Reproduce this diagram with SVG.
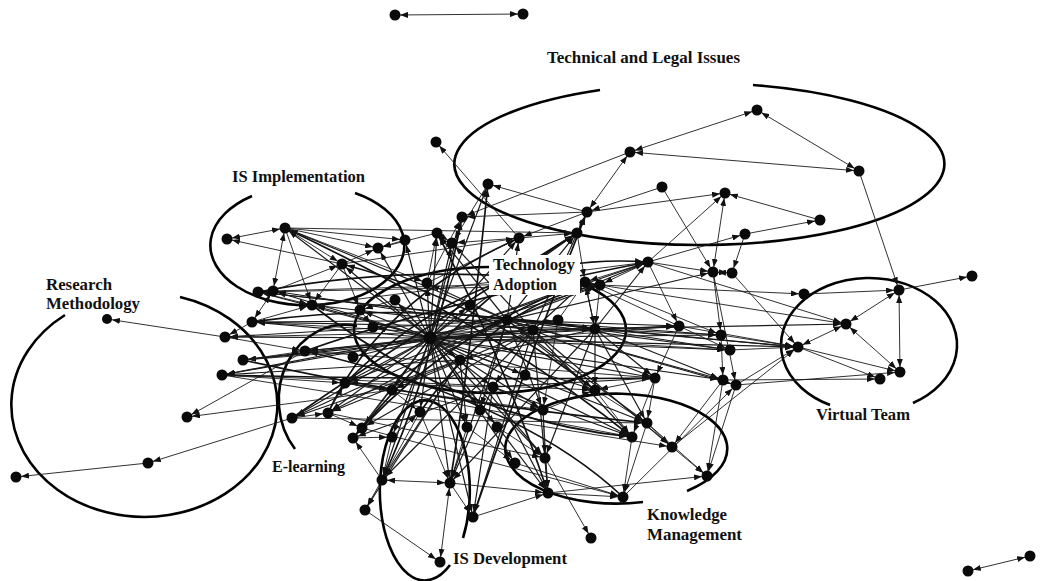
<svg xmlns="http://www.w3.org/2000/svg" width="1048" height="581" viewBox="0 0 1048 581">
<defs>
<marker id="ah" viewBox="0 0 8 6" refX="13" refY="3" markerWidth="8" markerHeight="6" orient="auto-start-reverse" markerUnits="userSpaceOnUse"><path d="M0,0 L8,3 L0,6 z" fill="#111"/></marker>
<style>
.edges path{fill:none;stroke:#1a1a1a;stroke-width:0.9;marker-end:url(#ah)}
.edges path.b{marker-start:url(#ah)}
.edges .hub path{stroke-width:1.2}
.edges .cv path{stroke-width:1.7;stroke:#111}
.node circle{fill:#0a0a0a}
.cl{fill:none;stroke:#000;stroke-width:2.6}
.lbl{font-family:"Liberation Serif","Times New Roman",serif;font-weight:bold;font-size:16px;fill:#111}
</style>
</defs>
<rect width="1048" height="581" fill="#fff"/>
<g id="clusters">
<path class="cl" d="M600,90 A245,81 0 1,0 753,85"/>
<path class="cl" d="M252,196 A97,60 0 1,0 355,193"/>
<path class="cl" d="M180,297 A133,112 0 1,1 65,315"/>
<path class="cl" d="M357,326 A66,75 0 0,0 295,449"/>
<ellipse class="cl" cx="490" cy="330" rx="136" ry="63"/>
<path class="cl" d="M450,565 A45,90 0 1,1 463,538"/>
<path class="cl" d="M643,502 A111,55 0 1,1 687,491"/>
<path class="cl" d="M830,405 A88,67 0 1,1 913,403"/>
</g>
<g id="connectors" class="edges">
<g class="hub">
<path d="M430 338L285 228"/><path d="M430 338L342 264"/><path d="M430 338L258 292"/><path d="M430 338L273 291"/><path d="M430 338L312 305"/><path d="M430 338L252 322"/><path d="M430 338L225 337"/><path d="M430 338L305 351"/><path d="M430 338L243 360"/><path d="M430 338L222 375"/><path d="M430 338L345 383"/><path d="M430 338L488 184"/><path d="M430 338L462 217"/><path d="M430 338L519 238"/><path d="M430 338L577 233"/><path d="M430 338L437 233"/><path d="M430 338L452 243"/><path d="M430 338L405 240"/><path d="M430 338L378 248"/><path d="M430 338L648 262"/><path d="M430 338L585 282"/><path d="M430 338L600 285"/><path d="M430 338L679 326"/><path d="M430 338L721 335"/><path d="M430 338L730 350"/><path d="M430 338L655 378"/><path d="M430 338L723 380"/><path d="M430 338L647 423"/><path d="M430 338L632 437"/><path d="M430 338L595 329"/><path d="M430 338L558 320"/><path d="M430 338L595 390"/><path d="M430 338L543 410"/><path d="M430 338L480 410"/><path d="M430 338L420 412"/><path d="M430 338L467 427"/><path d="M430 338L497 427"/><path d="M430 338L493 387"/><path d="M430 338L392 390"/><path d="M430 338L292 418"/><path d="M430 338L328 413"/><path d="M430 338L362 428"/><path d="M430 338L353 438"/><path d="M430 338L392 437"/><path d="M430 338L382 480"/><path d="M430 338L450 483"/><path d="M430 338L473 517"/><path d="M430 338L548 493"/><path d="M430 338L545 458"/><path d="M430 338L515 463"/><path d="M430 338L427 283"/><path d="M430 338L395 300"/><path d="M430 338L360 310"/><path d="M430 338L373 327"/><path d="M430 338L353 357"/><path d="M430 338L507 320"/><path d="M430 338L533 330"/><path d="M430 338L470 305"/><path d="M430 338L460 360"/><path d="M430 338L525 375"/><path d="M430 338L798 347"/>
<path d="M507 320L285 228"/><path d="M507 320L258 292"/><path d="M507 320L252 322"/><path d="M507 320L225 337"/><path d="M507 320L222 375"/><path d="M507 320L519 238"/><path d="M507 320L577 233"/><path d="M507 320L648 262"/><path d="M507 320L600 285"/><path d="M507 320L713 272"/><path d="M507 320L679 326"/><path d="M507 320L721 335"/><path d="M507 320L730 350"/><path d="M507 320L655 378"/><path d="M507 320L723 380"/><path d="M507 320L647 423"/><path d="M507 320L595 390"/><path d="M507 320L543 410"/><path d="M507 320L480 410"/><path d="M507 320L450 483"/><path d="M507 320L292 418"/><path d="M507 320L328 413"/><path d="M507 320L345 383"/><path d="M507 320L427 283"/><path d="M507 320L437 233"/><path d="M507 320L798 347"/><path d="M507 320L736 385"/>
<path d="M533 330L273 291"/><path d="M533 330L312 305"/><path d="M533 330L305 351"/><path d="M533 330L243 360"/><path d="M533 330L587 212"/><path d="M533 330L452 243"/><path d="M533 330L585 282"/><path d="M533 330L632 437"/><path d="M533 330L672 447"/><path d="M533 330L493 387"/><path d="M533 330L382 480"/><path d="M533 330L473 517"/><path d="M533 330L548 493"/><path d="M533 330L362 428"/><path d="M533 330L392 390"/><path d="M533 330L846 324"/>
<path d="M595 329L648 262"/><path d="M595 329L585 282"/><path d="M595 329L679 326"/><path d="M595 329L721 335"/><path d="M595 329L730 350"/><path d="M595 329L655 378"/><path d="M595 329L723 380"/><path d="M595 329L595 390"/><path d="M595 329L647 423"/><path d="M595 329L798 347"/><path d="M595 329L252 322"/><path d="M595 329L258 292"/><path d="M595 329L460 360"/><path d="M595 329L545 458"/><path d="M595 329L450 483"/>
<path d="M460 360L222 375"/><path d="M460 360L292 418"/><path d="M460 360L328 413"/><path d="M460 360L382 480"/><path d="M460 360L365 510"/><path d="M460 360L545 458"/><path d="M460 360L467 427"/>
<path d="M493 387L353 438"/><path d="M493 387L450 483"/><path d="M493 387L473 517"/><path d="M493 387L548 493"/><path d="M493 387L632 437"/><path d="M493 387L543 410"/><path d="M493 387L655 378"/><path d="M493 387L345 383"/>
</g>
<g class="cv">
<path d="M252 322Q400 300 595 329"/><path d="M258 292Q420 260 600 285"/><path d="M305 351Q450 300 648 262"/><path d="M222 375Q430 380 655 378"/><path d="M292 418Q420 330 577 233"/><path d="M328 413Q380 300 519 238"/><path d="M353 438Q450 330 585 282"/><path d="M382 480Q430 380 462 217"/><path d="M450 483Q470 360 488 184"/><path d="M473 517Q520 380 587 212"/><path d="M548 493Q500 350 437 233"/><path d="M595 390Q480 300 342 264"/><path d="M632 437Q500 330 285 228"/><path d="M623 497Q520 400 305 351"/><path d="M345 383Q480 250 648 262"/><path d="M243 360Q420 400 647 423"/><path d="M312 305Q460 420 632 437"/><path d="M420 412Q500 300 600 285"/><path d="M362 428Q470 300 577 233"/>
</g>
<path class="b" d="M395 15L523 14"/><path class="b" d="M1030 556L968 571"/>
<path d="M148 463L16 477"/><path d="M292 418L148 463"/><path d="M305 351L187 417"/><path d="M392 390L187 417"/><path d="M225 337L107 319"/>
<path class="b" d="M227 239L285 228"/><path d="M342 264L227 239"/><path class="b" d="M285 228L273 291"/><path d="M285 228L342 264"/><path d="M273 291L342 264"/><path class="b" d="M273 291L252 322"/><path d="M252 322L225 337"/><path d="M285 228L312 305"/><path d="M285 228L405 240"/><path d="M285 228L378 248"/><path d="M285 228L427 283"/><path d="M258 292L273 291"/><path d="M258 292L312 305"/><path d="M342 264L378 248"/><path d="M342 264L312 305"/><path d="M342 264L360 310"/>
<path d="M519 238L436 142"/><path d="M587 212L488 184"/><path d="M488 184L452 243"/><path d="M587 212L462 217"/><path d="M630 152L462 217"/><path class="b" d="M587 212L630 152"/><path class="b" d="M630 152L757 110"/><path class="b" d="M757 110L859 171"/><path class="b" d="M630 152L859 171"/><path d="M662 187L587 212"/><path d="M662 187L713 272"/><path d="M587 212L519 238"/><path d="M587 212L577 233"/><path d="M587 212L725 193"/><path d="M577 233L585 282"/><path d="M437 233L378 248"/><path d="M437 233L452 243"/><path d="M405 240L378 248"/><path d="M519 238L452 243"/><path d="M519 238L577 233"/>
<path d="M820 220L725 193"/><path class="b" d="M725 193L713 272"/><path d="M648 262L725 193"/><path d="M745 234L820 220"/><path d="M648 262L745 234"/><path d="M745 234L732 273"/><path d="M859 171L899 290"/><path d="M899 290L972 276"/><path class="b" d="M899 290L900 372"/><path class="b" d="M899 290L846 324"/><path d="M804 294L899 290"/><path d="M600 285L804 294"/><path d="M648 262L846 324"/><path d="M600 285L846 324"/><path class="b" d="M846 324L900 372"/><path class="b" d="M846 324L798 347"/><path d="M798 347L880 379"/><path d="M798 347L900 372"/><path d="M723 380L880 379"/><path d="M736 385L900 372"/>
<path d="M679 326L798 347"/><path d="M721 335L798 347"/><path d="M730 350L798 347"/><path d="M736 385L798 347"/><path d="M679 326L655 378"/><path d="M648 262L679 326"/><path class="b" d="M713 272L732 273"/><path d="M713 272L721 335"/><path d="M732 273L798 347"/><path d="M648 262L713 272"/><path d="M648 262L585 282"/><path d="M600 285L595 329"/><path d="M585 282L595 329"/><path d="M648 262L600 285"/><path d="M713 272L736 385"/><path d="M721 335L723 380"/>
<path d="M655 378L647 423"/><path d="M655 378L632 437"/><path d="M723 380L672 447"/><path d="M647 423L672 447"/><path d="M647 423L707 476"/><path d="M672 447L707 476"/><path d="M632 437L623 497"/><path d="M647 423L623 497"/><path d="M548 493L623 497"/><path d="M545 458L591 538"/><path d="M545 458L548 493"/><path d="M543 410L548 493"/><path d="M450 483L548 493"/><path d="M473 517L548 493"/>
<path class="b" d="M382 480L450 483"/><path d="M382 480L365 510"/><path class="b" d="M450 483L440 562"/><path d="M365 510L440 562"/><path d="M382 480L353 438"/><path d="M392 437L382 480"/><path d="M420 412L382 480"/><path d="M450 483L473 517"/><path d="M420 412L450 483"/>
<path d="M543 410L595 390"/><path d="M595 390L647 423"/><path d="M595 390L632 437"/><path d="M655 378L595 390"/><path d="M736 385L707 476"/><path d="M723 380L707 476"/><path d="M548 493L707 476"/>
<path d="M292 418L328 413"/><path d="M328 413L362 428"/><path d="M362 428L353 438"/><path d="M353 438L392 437"/><path d="M392 437L420 412"/><path d="M392 390L420 412"/><path d="M345 383L392 390"/><path d="M328 413L345 383"/><path d="M243 360L305 351"/><path d="M222 375L345 383"/><path d="M225 337L305 351"/><path d="M252 322L312 305"/>
<path d="M427 283L519 238"/><path d="M427 283L462 217"/><path d="M427 283L437 233"/><path d="M395 300L360 310"/><path d="M360 310L373 327"/><path d="M558 320L585 282"/><path d="M558 320L543 410"/><path d="M497 427L545 458"/><path d="M467 427L450 483"/><path d="M543 410L545 458"/><path d="M467 427L515 463"/><path d="M515 463L623 497"/>
<path d="M225 337L595 329"/><path d="M258 292L600 285"/><path d="M273 291L585 282"/><path d="M222 375L595 390"/><path d="M243 360L679 326"/><path d="M292 418L647 423"/><path d="M305 351L655 378"/><path d="M312 305L648 262"/><path d="M285 228L577 233"/><path d="M342 264L519 238"/><path d="M345 383L543 410"/><path d="M328 413L545 458"/><path d="M345 383L632 437"/><path d="M252 322L730 350"/><path d="M222 375L672 447"/><path d="M362 428L623 497"/><path d="M600 285L721 335"/><path d="M585 282L730 350"/><path d="M672 447L798 347"/><path d="M623 497L736 385"/>
</g>
<g id="nodes" class="node">
<g id="n-a1"><circle cx="395" cy="15" r="5.5"/></g>
<g id="n-a2"><circle cx="523" cy="14" r="5.5"/></g>
<g id="n-b1"><circle cx="1030" cy="556" r="5.5"/></g>
<g id="n-b2"><circle cx="968" cy="571" r="5.5"/></g>
<g id="n-r1"><circle cx="16" cy="477" r="5.5"/></g>
<g id="n-r2"><circle cx="148" cy="463" r="5.5"/></g>
<g id="n-r3"><circle cx="187" cy="417" r="5.5"/></g>
<g id="n-r4"><circle cx="107" cy="319" r="5"/></g>
<g id="n-i1"><circle cx="227" cy="239" r="5.5"/></g>
<g id="n-i2"><circle cx="285" cy="228" r="5.5"/></g>
<g id="n-i3"><circle cx="342" cy="264" r="5.5"/></g>
<g id="n-i4"><circle cx="258" cy="292" r="5.5"/></g>
<g id="n-i5"><circle cx="273" cy="291" r="5.5"/></g>
<g id="n-e1"><circle cx="312" cy="305" r="5.5"/></g>
<g id="n-e2"><circle cx="252" cy="322" r="5.5"/></g>
<g id="n-e3"><circle cx="225" cy="337" r="5.5"/></g>
<g id="n-e4"><circle cx="305" cy="351" r="5.5"/></g>
<g id="n-e5"><circle cx="243" cy="360" r="5.5"/></g>
<g id="n-e6"><circle cx="222" cy="375" r="5.5"/></g>
<g id="n-e7"><circle cx="345" cy="383" r="5.5"/></g>
<g id="n-t1"><circle cx="436" cy="142" r="5.5"/></g>
<g id="n-t2"><circle cx="488" cy="184" r="5.5"/></g>
<g id="n-t3"><circle cx="462" cy="217" r="5.5"/></g>
<g id="n-t4"><circle cx="519" cy="238" r="5.5"/></g>
<g id="n-t5"><circle cx="630" cy="152" r="5.5"/></g>
<g id="n-t6"><circle cx="662" cy="187" r="5.5"/></g>
<g id="n-t7"><circle cx="587" cy="212" r="5.5"/></g>
<g id="n-t8"><circle cx="577" cy="233" r="5.5"/></g>
<g id="n-t9"><circle cx="437" cy="233" r="5.5"/></g>
<g id="n-t10"><circle cx="452" cy="243" r="5.5"/></g>
<g id="n-t11"><circle cx="405" cy="240" r="5.5"/></g>
<g id="n-t12"><circle cx="378" cy="248" r="5.5"/></g>
<g id="n-t13"><circle cx="757" cy="110" r="5.5"/></g>
<g id="n-t14"><circle cx="859" cy="171" r="5.5"/></g>
<g id="n-t15"><circle cx="725" cy="193" r="5.5"/></g>
<g id="n-t16"><circle cx="820" cy="220" r="5.5"/></g>
<g id="n-t17"><circle cx="745" cy="234" r="5.5"/></g>
<g id="n-m1"><circle cx="648" cy="262" r="5.5"/></g>
<g id="n-m2"><circle cx="585" cy="282" r="5.5"/></g>
<g id="n-m3"><circle cx="600" cy="285" r="5.5"/></g>
<g id="n-m4"><circle cx="713" cy="272" r="5.5"/></g>
<g id="n-m5"><circle cx="732" cy="273" r="5.5"/></g>
<g id="n-v1"><circle cx="804" cy="294" r="5.5"/></g>
<g id="n-v2"><circle cx="899" cy="290" r="5.5"/></g>
<g id="n-v3"><circle cx="972" cy="276" r="5.5"/></g>
<g id="n-v4"><circle cx="846" cy="324" r="5.5"/></g>
<g id="n-v5"><circle cx="798" cy="347" r="5.5"/></g>
<g id="n-v6"><circle cx="900" cy="372" r="5.5"/></g>
<g id="n-v7"><circle cx="880" cy="379" r="5.5"/></g>
<g id="n-m6"><circle cx="679" cy="326" r="5.5"/></g>
<g id="n-m7"><circle cx="721" cy="335" r="5.5"/></g>
<g id="n-m8"><circle cx="730" cy="350" r="5.5"/></g>
<g id="n-m9"><circle cx="655" cy="378" r="5.5"/></g>
<g id="n-m10"><circle cx="723" cy="380" r="5.5"/></g>
<g id="n-m11"><circle cx="736" cy="385" r="5.5"/></g>
<g id="n-k1"><circle cx="647" cy="423" r="5.5"/></g>
<g id="n-k2"><circle cx="632" cy="437" r="5.5"/></g>
<g id="n-k3"><circle cx="672" cy="447" r="5.5"/></g>
<g id="n-k4"><circle cx="707" cy="476" r="5.5"/></g>
<g id="n-k5"><circle cx="623" cy="497" r="5.5"/></g>
<g id="n-k6"><circle cx="591" cy="538" r="5.5"/></g>
<g id="n-k7"><circle cx="548" cy="493" r="5.5"/></g>
<g id="n-k8"><circle cx="545" cy="458" r="5.5"/></g>
<g id="n-k9"><circle cx="515" cy="463" r="5.5"/></g>
<g id="n-d1"><circle cx="382" cy="480" r="5.5"/></g>
<g id="n-d2"><circle cx="450" cy="483" r="5.5"/></g>
<g id="n-d3"><circle cx="365" cy="510" r="5.5"/></g>
<g id="n-d4"><circle cx="473" cy="517" r="5.5"/></g>
<g id="n-d5"><circle cx="440" cy="562" r="5.5"/></g>
<g id="n-c0"><circle cx="430" cy="338" r="6.5"/></g>
<g id="n-c1"><circle cx="595" cy="329" r="5.5"/></g>
<g id="n-c2"><circle cx="558" cy="320" r="5.5"/></g>
<g id="n-c3"><circle cx="595" cy="390" r="5.5"/></g>
<g id="n-c4"><circle cx="543" cy="410" r="5.5"/></g>
<g id="n-c5"><circle cx="480" cy="410" r="5.5"/></g>
<g id="n-c6"><circle cx="420" cy="412" r="5.5"/></g>
<g id="n-c7"><circle cx="467" cy="427" r="5.5"/></g>
<g id="n-c8"><circle cx="497" cy="427" r="5.5"/></g>
<g id="n-c9"><circle cx="493" cy="387" r="5.5"/></g>
<g id="n-c10"><circle cx="392" cy="390" r="5.5"/></g>
<g id="n-l1"><circle cx="292" cy="418" r="5.5"/></g>
<g id="n-l2"><circle cx="328" cy="413" r="5.5"/></g>
<g id="n-l3"><circle cx="362" cy="428" r="5.5"/></g>
<g id="n-l4"><circle cx="353" cy="438" r="5.5"/></g>
<g id="n-l5"><circle cx="392" cy="437" r="5.5"/></g>
<g id="n-h1"><circle cx="427" cy="283" r="5.5"/></g>
<g id="n-h2"><circle cx="395" cy="300" r="5.5"/></g>
<g id="n-h3"><circle cx="360" cy="310" r="5.5"/></g>
<g id="n-h4"><circle cx="373" cy="327" r="5.5"/></g>
<g id="n-h5"><circle cx="353" cy="357" r="5.5"/></g>
<g id="n-h6"><circle cx="507" cy="320" r="5.5"/></g>
<g id="n-h7"><circle cx="533" cy="330" r="5.5"/></g>
<g id="n-h8"><circle cx="470" cy="305" r="5.5"/></g>
<g id="n-h9"><circle cx="460" cy="360" r="5.5"/></g>
<g id="n-h10"><circle cx="525" cy="375" r="5.5"/></g>
</g>
<g id="labels" class="lbl">
<text x="547" y="63" textLength="193" lengthAdjust="spacingAndGlyphs">Technical and Legal Issues</text>
<text x="232" y="182" textLength="133" lengthAdjust="spacingAndGlyphs">IS Implementation</text>
<text x="46" y="290" textLength="66" lengthAdjust="spacingAndGlyphs">Research</text>
<text x="46" y="309" textLength="94" lengthAdjust="spacingAndGlyphs">Methodology</text>
<rect x="489" y="255" width="91" height="40" fill="#fff"/>
<text x="493" y="270" textLength="82" lengthAdjust="spacingAndGlyphs">Technology</text>
<text x="493" y="290" textLength="64" lengthAdjust="spacingAndGlyphs">Adoption</text>
<text x="816" y="420" textLength="94" lengthAdjust="spacingAndGlyphs">Virtual Team</text>
<text x="272" y="472" textLength="73" lengthAdjust="spacingAndGlyphs">E-learning</text>
<text x="647" y="520" textLength="80" lengthAdjust="spacingAndGlyphs">Knowledge</text>
<text x="647" y="540" textLength="95" lengthAdjust="spacingAndGlyphs">Management</text>
<text x="453" y="564" textLength="114" lengthAdjust="spacingAndGlyphs">IS Development</text>
</g>
</svg>
